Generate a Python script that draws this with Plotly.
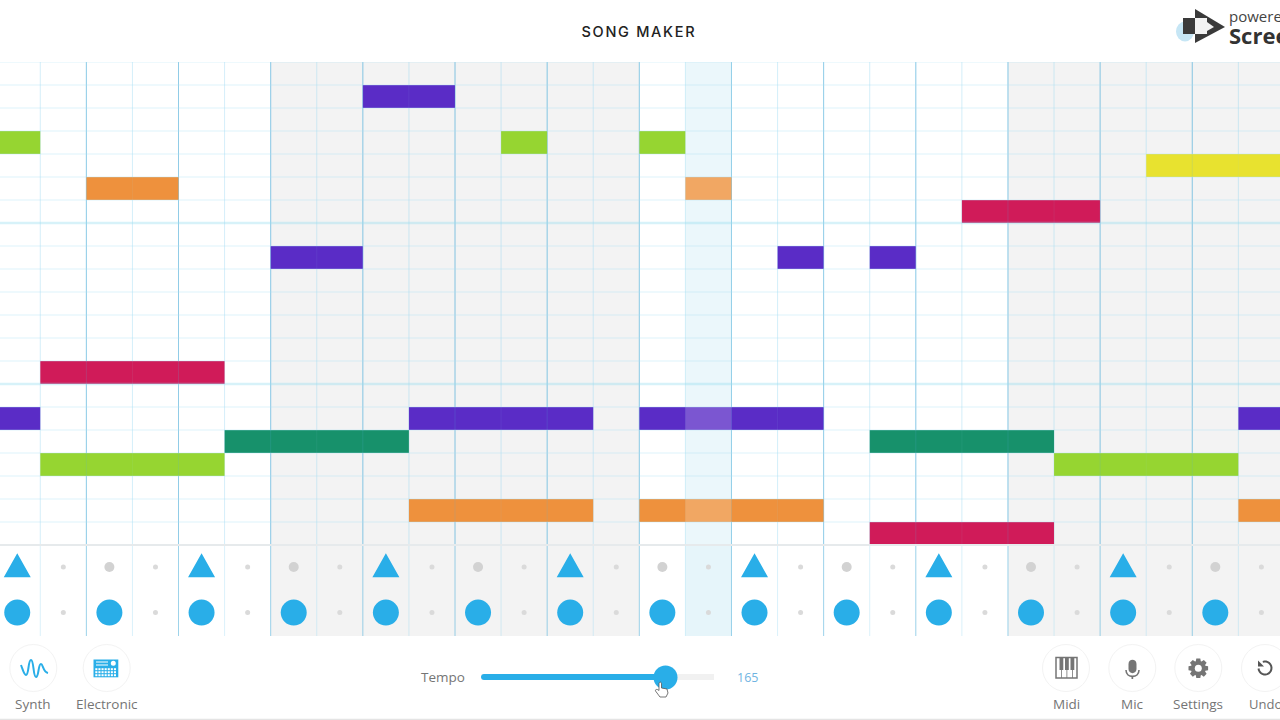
import math
import plotly.graph_objects as go

# notes per colour: grid row, first step, length in steps
purple_rows = [1, 8, 8, 8, 15, 15, 15, 15]
purple_starts = [8, 6, 17, 19, 0, 9, 14, 27]
purple_lengths = [2, 2, 1, 1, 1, 4, 4, 1]

green_rows = [3, 3, 3, 17, 17]
green_starts = [0, 11, 14, 1, 23]
green_lengths = [1, 1, 1, 4, 4]

yellow_rows = [4]
yellow_starts = [25]
yellow_lengths = [3]

orange_rows = [5, 5, 19, 19, 19]
orange_starts = [2, 15, 9, 14, 27]
orange_lengths = [2, 1, 4, 4, 1]

crimson_rows = [6, 13, 20]
crimson_starts = [21, 1, 19]
crimson_lengths = [3, 4, 4]

teal_rows = [16, 16]
teal_starts = [5, 19]
teal_lengths = [4, 4]

# percussion steps
triangle_steps = [0, 4, 8, 12, 16, 20, 24]
soft_dot_steps = [2, 6, 10, 14, 18, 22, 26]
circle_steps = [0, 2, 4, 6, 8, 10, 12, 14, 16, 18, 20, 22, 24, 26]
small_dot_steps = [1, 3, 5, 7, 9, 11, 13, 15, 17, 19, 21, 23, 25, 27]

shaded_bars = [(6, 14), (22, 30)]
playhead_step = 15
tempo_label = "165"

W, H = 1280, 720
STEP = 46.08
X0 = -5.8
GRID_TOP, ROW_H, NOTE_ROWS = 62, 23, 21
GRID_BOTTOM = 636
BLUE = "#29aee8"
GREY = "#757575"
FONT = "Open Sans"


def px(x):
    return x / W


def py(y):
    return 1 - y / H


def path(d):
    # pixel path string -> paper path string
    out, is_x = [], True
    for tok in d.split():
        if tok.isalpha():
            out.append(tok)
        else:
            out.append(str(round(px(float(tok)) if is_x else py(float(tok)), 5)))
            is_x = not is_x
    return " ".join(out)


def poly(points):
    return "M " + " L ".join(f"{x:.2f} {y:.2f}" for x, y in points)


def paper_shape(kind="path", d=None, box=None, fill=None, line=None, lw=0, layer="above"):
    s = dict(type=kind, xref="paper", yref="paper", layer=layer,
             fillcolor=fill or "rgba(0,0,0,0)",
             line=dict(color=line or "rgba(0,0,0,0)", width=lw))
    if d:
        s["path"] = path(d)
    if box:
        s.update(x0=px(box[0]), y0=py(box[1]), x1=px(box[2]), y1=py(box[3]))
    return s


def label(text, x, y, size=13.5, color=GREY, anchor="center", family=FONT, weight=None):
    return dict(text=text, x=px(x), y=py(y), xref="paper", yref="paper", showarrow=False,
                xanchor=anchor, yanchor="middle",
                font=dict(size=size, color=color, family=family, weight=weight))


def note_trace(rows, starts, lengths, color):
    return go.Bar(y=[r + 0.5 for r in rows], x=lengths, base=starts, orientation="h", width=1,
                  marker=dict(color=color, line_width=0), hoverinfo="skip", showlegend=False)


def dots(steps, y, size, color):
    return go.Scatter(x=[s + 0.5 for s in steps], y=[y] * len(steps), mode="markers",
                      marker=dict(size=size, color=color, line_width=0),
                      hoverinfo="skip", showlegend=False)


tri_x, tri_y = [], []
for s in triangle_steps:
    tri_x += [s + 0.5 - 0.293, s + 0.5 + 0.293, s + 0.5, None]
    tri_y += [22.40, 22.40, 21.36, None]

fig = go.Figure()
fig.add_trace(note_trace(purple_rows, purple_starts, purple_lengths, "#5a2cc6"))
fig.add_trace(note_trace(green_rows, green_starts, green_lengths, "#96d531"))
fig.add_trace(note_trace(yellow_rows, yellow_starts, yellow_lengths, "#e8e22f"))
fig.add_trace(note_trace(orange_rows, orange_starts, orange_lengths, "#ee913d"))
fig.add_trace(note_trace(crimson_rows, crimson_starts, crimson_lengths, "#d01b59"))
fig.add_trace(note_trace(teal_rows, teal_starts, teal_lengths, "#17916b"))
fig.add_trace(go.Scatter(x=tri_x, y=tri_y, mode="lines", fill="toself", fillcolor=BLUE,
                         line=dict(width=0, color=BLUE), hoverinfo="skip", showlegend=False))
fig.add_trace(dots(circle_steps, 23.94, 26, BLUE))
fig.add_trace(dots(soft_dot_steps, 21.96, 10, "#d2d2d2"))
fig.add_trace(dots(small_dot_steps, 21.96, 5, "#dadada"))
fig.add_trace(dots(small_dot_steps, 23.94, 5, "#dadada"))

y_end = (GRID_BOTTOM - GRID_TOP) / ROW_H
shapes = []

# shaded bars and playhead
for a, b in shaded_bars:
    shapes.append(dict(type="rect", xref="x", yref="y", x0=a, x1=b, y0=0, y1=y_end, layer="below",
                       fillcolor="#f3f3f3", line_width=0))
shapes.append(dict(type="rect", xref="x", yref="y", x0=playhead_step, x1=playhead_step + 1, y0=0, y1=y_end,
                   layer="below", fillcolor="#e6f5fa", line_width=0))
# lightens the notes under the playhead
shapes.append(dict(type="rect", xref="x", yref="y", x0=playhead_step, x1=playhead_step + 1, y0=0, y1=NOTE_ROWS,
                   layer="above", fillcolor="rgba(255,255,255,0.2)", line_width=0))

# vertical lines: full strength under the notes, faint over them
for k in range(1, 28):
    major = k % 2 == 0
    shapes.append(dict(type="line", xref="x", yref="y", x0=k, x1=k, y0=0, y1=y_end, layer="below",
                       line=dict(color="rgba(90,180,220,0.6)" if major else "rgba(150,215,240,0.35)", width=1)))
    shapes.append(dict(type="line", xref="x", yref="y", x0=k, x1=k, y0=0, y1=NOTE_ROWS, layer="above",
                       line=dict(color="rgba(90,180,220,0.18)" if major else "rgba(150,215,240,0.08)", width=1)))

for r in range(0, NOTE_ROWS):
    strong = r % 7 == 0 and r > 0
    shapes.append(dict(type="line", xref="paper", yref="y", x0=0, x1=1, y0=r, y1=r, layer="above",
                       line=dict(color="rgba(150,220,240,0.38)" if strong else "rgba(170,225,245,0.4)",
                                 width=2.5 if strong else 1)))
shapes.append(dict(type="line", xref="paper", yref="y", x0=0, x1=1, y0=NOTE_ROWS, y1=NOTE_ROWS, layer="above",
                   line=dict(color="#e6eaec", width=2)))

# toolbar circles
for cx in [33.3, 106.7, 1066, 1132.3, 1198.3, 1265]:
    shapes.append(paper_shape("circle", box=(cx - 23.5, 644.5, cx + 23.5, 691.5), fill="white", line="#f3f3f3", lw=1))

# synth wave
shapes.append(paper_shape(
    d="M 21 665 C 23 670 24 675 26 675 C 29 675 28 660 31 660 C 34 660 33 677 36 677 "
      "C 39 677 38 664 41 664 C 43 664 43 672 48 673",
    line=BLUE, lw=2))

# electronic drum machine
shapes.append(paper_shape("rect", box=(93.5, 659.5, 118.3, 677.3), fill=BLUE))
shapes.append(paper_shape("circle", box=(110.8, 660.8, 115.8, 665.8), fill="white"))
for yy in (661.5, 664.5):
    shapes.append(paper_shape("rect", box=(96, yy, 108, yy + 1), fill="white"))
for row in range(3):
    for col in range(7):
        xx = 95.3 + col * 3.1
        yy = 668.2 + row * 3
        shapes.append(paper_shape("rect", box=(xx, yy, xx + 2.1, yy + 2), fill="white"))

# midi keys
shapes.append(paper_shape("rect", box=(1056, 657.5, 1077, 678), fill="white", line=GREY, lw=1.5))
for xx in (1059.5, 1065, 1070.5):
    shapes.append(paper_shape("rect", box=(xx, 657.5, xx + 3.8, 670), fill=GREY))
for xx in (1061.4, 1066.9, 1072.4):
    shapes.append(paper_shape("rect", box=(xx - 0.4, 670, xx + 0.4, 678), fill=GREY))

# mic
shapes.append(paper_shape(d="M 1128.5 664 C 1128.5 658.5 1136.5 658.5 1136.5 664 L 1136.5 669 "
                            "C 1136.5 674.5 1128.5 674.5 1128.5 669 Z", fill=GREY))
shapes.append(paper_shape(d="M 1126 670 C 1126 678.5 1139 678.5 1139 670", line=GREY, lw=1.6))
shapes.append(paper_shape("rect", box=(1131.5, 676, 1133.2, 679), fill=GREY))

# settings gear
gear = []
for i in range(8):
    a = i * math.pi / 4
    for off, rad in ((-0.34, 7.5), (-0.2, 10), (0.2, 10), (0.34, 7.5)):
        gear.append((1198.3 + rad * math.cos(a + off), 668.3 + rad * math.sin(a + off)))
shapes.append(paper_shape(d=poly(gear) + " Z", fill=GREY))
shapes.append(paper_shape("circle", box=(1194.8, 664.8, 1201.8, 671.8), fill="white"))

# undo arrow
arc = [(1265 + 6.5 * math.cos(math.radians(a)), 668 + 6.5 * math.sin(math.radians(a))) for a in range(-110, 190, 15)]
shapes.append(paper_shape(d=poly(arc), line="#555555", lw=2))
shapes.append(paper_shape(d="M 1258 660.5 L 1258 666.5 L 1264 666.5 Z", fill="#555555"))

# tempo slider
shapes.append(paper_shape(d="M 481 674 L 714 674 L 714 680 L 481 680 Z", fill="#f1f1f1"))
shapes.append(paper_shape(d="M 484 674 L 665 674 L 665 680 L 484 680 C 480 680 480 674 484 674 Z", fill=BLUE))
shapes.append(paper_shape("circle", box=(653.5, 665.5, 677.5, 689.5), fill=BLUE))
shapes.append(paper_shape(
    d="M 659 684 C 659 681.5 661.5 681.5 661.5 684 L 661.5 688 L 667 689 L 668 693 L 666 697 L 660 697 L 655.5 691 "
      "C 655 689 657.5 689 659 690.5 Z",
    fill="white", line="#555555", lw=0.8))

# bottom rule
shapes.append(paper_shape("rect", box=(0, 718.7, 1280, 720), fill="#e4e4e4"))

# screen recorder mark
shapes.append(paper_shape("circle", box=(1176, 21.5, 1194, 41.5), fill="#c6e6f5"))
shapes.append(paper_shape(d="M 1195 9 L 1225 27 L 1195 43 Z", fill="#3a3a3a"))
shapes.append(paper_shape("rect", box=(1183, 18, 1195, 34), fill="#3a3a3a"))
shapes.append(paper_shape("rect", box=(1195, 18, 1207, 34), fill="#f2f2f2"))
shapes.append(paper_shape(d="M 1207 22 L 1214 27 L 1207 31 Z", fill="#f2f2f2"))

annotations = [
    label("SONG MAKER", 638.5, 31.5, size=14.5, color="#222222", family="Inter", weight=500),
    label("Synth", 33, 703.5),
    label("Electronic", 106.5, 703.5),
    label("Tempo", 443, 677),
    label(tempo_label, 747, 677, size=12.5, color="#6fb4e2"),
    label("Midi", 1066, 703.5),
    label("Mic", 1132, 703.5),
    label("Settings", 1198, 703.5),
    label("Undo", 1247, 703.5, size=13, anchor="left"),
    label("powered", 1227, 15.5, size=15, color="#444444", anchor="left"),
    label("Scree", 1227, 34.5, size=22, color="#333333", anchor="left", weight=700),
]

fig.update_layout(
    width=W, height=H, autosize=False,
    margin=dict(l=0, r=0, t=0, b=0),
    paper_bgcolor="white", plot_bgcolor="white",
    barmode="overlay", showlegend=False,
    shapes=shapes, annotations=annotations,
    xaxis=dict(range=[(0 - X0) / STEP, (W - X0) / STEP], visible=False, fixedrange=True),
    yaxis=dict(range=[y_end, 0], domain=[1 - GRID_BOTTOM / H, 1 - GRID_TOP / H], visible=False, fixedrange=True),
)

# page margin off, title tracking
post = """
document.body.style.margin = '0';
document.querySelectorAll('.annotation-text').forEach(function (t) {
  if (t.textContent === 'SONG MAKER') { t.style.letterSpacing = '1.7px'; }
});
"""
fig.write_html("out.html", config=dict(displayModeBar=False), post_script=post)
